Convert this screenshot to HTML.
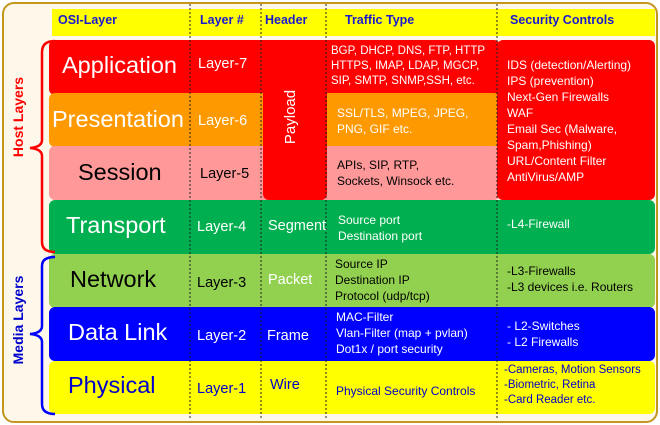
<!DOCTYPE html>
<html><head><meta charset="utf-8"><style>
*{margin:0;padding:0;box-sizing:border-box}
body{width:660px;height:425px;background:#fff;position:relative;overflow:hidden;font-family:"Liberation Sans",Arial,sans-serif}
.a{position:absolute}
.t{position:absolute;white-space:nowrap}
.h{font-weight:bold;color:#1a1ad0;font-size:12.5px;top:13px}
.r{border-radius:6px}
.big{font-size:23.5px}
.mid{font-size:14.5px}
.sm{font-size:12px;line-height:16px}
</style></head><body>
<div class="a" style="left:2px;top:2px;width:656px;height:421px;border:2.5px solid #c4961e;border-radius:12px;background:#fdf8e9"></div>
<div class="a" style="left:52px;top:9px;width:603px;height:27px;background:#ffff00"></div>
<div class="t h" style="left:58px">OSI-Layer</div>
<div class="t h" style="left:200px">Layer #</div>
<div class="t h" style="left:265px">Header</div>
<div class="t h" style="left:345px">Traffic Type</div>
<div class="t h" style="left:510px">Security Controls</div>

<div class="a r" style="left:49px;top:40px;width:280px;height:55px;background:#ff0000"></div>
<div class="a r" style="left:49px;top:93px;width:280px;height:54px;background:#ff9900"></div>
<div class="a r" style="left:49px;top:146px;width:280px;height:54px;background:#ff9999"></div>
<div class="a" style="left:300px;top:40px;width:200px;height:54px;background:#ff0000;border-radius:0 6px 6px 0"></div>
<div class="a" style="left:300px;top:93px;width:200px;height:54px;background:#ff9900;border-radius:0 6px 6px 0"></div>
<div class="a" style="left:300px;top:146px;width:200px;height:54px;background:#ff9999;border-radius:0 6px 6px 0"></div>
<div class="a r" style="left:263px;top:40px;width:64px;height:160px;background:#ff0000"></div>
<div class="a r" style="left:497px;top:40px;width:158px;height:160px;background:#ff0000"></div>
<div class="a r" style="left:49px;top:200px;width:606px;height:54px;background:#00b050"></div>
<div class="a r" style="left:49px;top:254px;width:606px;height:54px;background:#92d050"></div>
<div class="a r" style="left:49px;top:307px;width:606px;height:54px;background:#0000ff"></div>
<div class="a r" style="left:49px;top:361px;width:606px;height:53px;background:#ffff00"></div>

<svg class="a" style="left:0;top:0" width="660" height="425">
<g stroke="#222" stroke-width="1" stroke-dasharray="2,2">
<line x1="190" y1="4" x2="190" y2="420"/><line x1="261" y1="4" x2="261" y2="420"/>
<line x1="326" y1="4" x2="326" y2="420"/><line x1="497" y1="4" x2="497" y2="420"/>
</g>
<path d="M55,41 Q42,41 42,52 L42,140 Q42,147 30,148 Q42,149 42,156 L42,242 Q42,252 55,252" fill="none" stroke="#ff0000" stroke-width="2.5"/>
<path d="M55,257 Q42,257 42,266 L42,326 Q42,333 30,334 Q42,335 42,342 L42,404 Q42,414 55,414" fill="none" stroke="#0000ff" stroke-width="2.5"/>
<text transform="translate(23,117) rotate(-90)" text-anchor="middle" font-family="Liberation Sans" font-weight="bold" font-size="14" fill="#ff0000">Host Layers</text>
<text transform="translate(23,320) rotate(-90)" text-anchor="middle" font-family="Liberation Sans" font-weight="bold" font-size="14" fill="#0000cc">Media Layers</text>
<text transform="translate(295,117) rotate(-90)" text-anchor="middle" font-family="Liberation Sans" font-size="15" fill="#fff">Payload</text>
</svg>

<div class="t big" style="left:62px;top:52px;color:#fff">Application</div>
<div class="t big" style="left:52px;top:106px;color:#fff">Presentation</div>
<div class="t big" style="left:78px;top:159px;color:#000">Session</div>
<div class="t big" style="left:66px;top:212px;color:#fff">Transport</div>
<div class="t big" style="left:70px;top:266px;color:#000">Network</div>
<div class="t big" style="left:68px;top:319px;color:#fff">Data Link</div>
<div class="t big" style="left:68px;top:372px;color:#00c">Physical</div>

<div class="t mid" style="left:198px;top:56px;color:#fff">Layer-7</div>
<div class="t mid" style="left:198px;top:113px;color:#fff">Layer-6</div>
<div class="t mid" style="left:200px;top:166px;color:#000">Layer-5</div>
<div class="t mid" style="left:197px;top:219px;color:#fff">Layer-4</div>
<div class="t mid" style="left:197px;top:275px;color:#000">Layer-3</div>
<div class="t mid" style="left:197px;top:328px;color:#fff">Layer-2</div>
<div class="t mid" style="left:197px;top:381px;color:#00c">Layer-1</div>

<div class="t mid" style="left:268px;top:218px;color:#fff">Segment</div>
<div class="t mid" style="left:268px;top:272px;color:#fff">Packet</div>
<div class="t mid" style="left:267px;top:328px;color:#fff">Frame</div>
<div class="t mid" style="left:270px;top:377px;color:#00c">Wire</div>

<div class="t" style="left:331px;top:44px;color:#fff;font-size:11.5px;line-height:15px">BGP, DHCP, DNS, FTP, HTTP<br>HTTPS, IMAP, LDAP, MGCP,<br>SIP, SMTP, SNMP,SSH, etc.</div>
<div class="t sm" style="left:337px;top:105px;color:#fff">SSL/TLS, MPEG, JPEG,<br>PNG, GIF etc.</div>
<div class="t sm" style="left:337px;top:157px;color:#000">APIs, SIP, RTP,<br>Sockets, Winsock etc.</div>
<div class="t sm" style="left:338px;top:212px;color:#fff">Source port<br>Destination port</div>
<div class="t sm" style="left:335px;top:256px;color:#000">Source IP<br>Destination IP<br>Protocol (udp/tcp)</div>
<div class="t sm" style="left:336px;top:309px;color:#fff">MAC-Filter<br>Vlan-Filter (map + pvlan)<br>Dot1x / port security</div>
<div class="t sm" style="left:336px;top:383px;color:#00c">Physical Security Controls</div>

<div class="t sm" style="left:507px;top:57px;color:#fff">IDS (detection/Alerting)<br>IPS (prevention)<br>Next-Gen Firewalls<br>WAF<br>Email Sec (Malware,<br>Spam,Phishing)<br>URL/Content Filter<br>AntiVirus/AMP</div>
<div class="t sm" style="left:507px;top:216px;color:#fff">-L4-Firewall</div>
<div class="t sm" style="left:507px;top:263px;color:#000">-L3-Firewalls<br>-L3 devices i.e. Routers</div>
<div class="t sm" style="left:507px;top:318px;color:#fff">- L2-Switches<br>- L2 Firewalls</div>
<div class="t" style="left:504px;top:363px;color:#00c;font-size:11.5px;line-height:15px">-Cameras, Motion Sensors<br>-Biometric, Retina<br>-Card Reader etc.</div>
</body></html>
